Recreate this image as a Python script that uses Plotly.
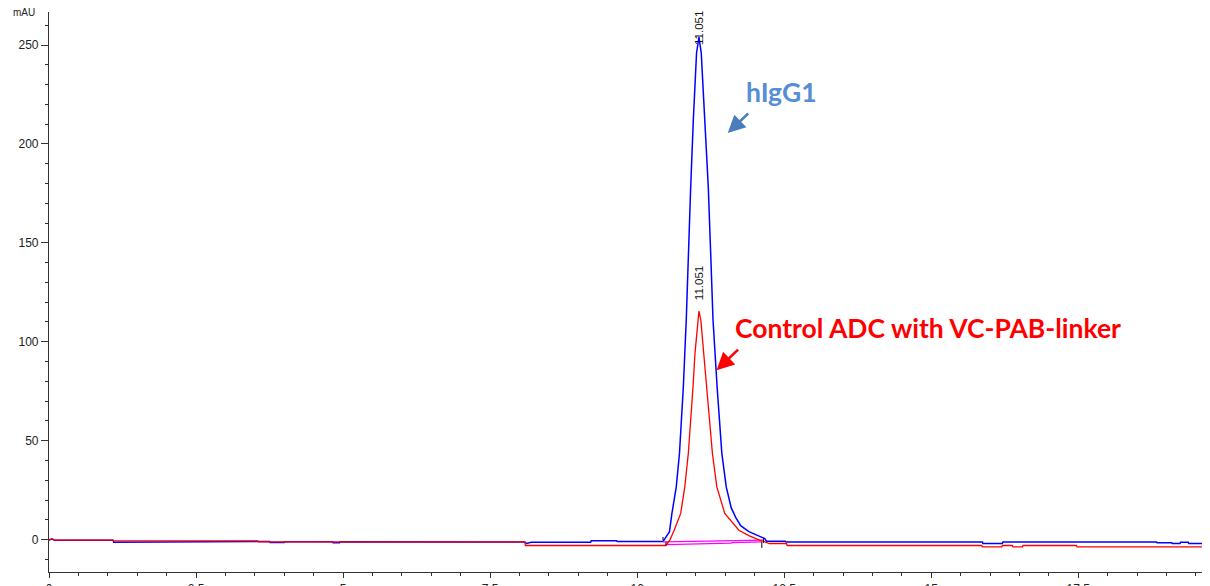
import plotly.graph_objects as go

# ---- data (time in min, signal in mAU) ----
blue_time = [0, 0.05, 0.1, 1.09, 1.1, 3.55, 3.56, 3.75, 3.76, 4.0, 4.01, 4.82, 4.83, 4.94, 4.95,
             8.09, 8.12, 8.2, 9.21, 9.22, 9.65, 9.66, 10.44, 10.49, 10.55, 10.59, 10.665, 10.72,
             10.785, 10.835, 10.87, 10.91, 10.955, 11.01, 11.051, 11.09, 11.15, 11.21, 11.25, 11.29,
             11.36, 11.44, 11.515, 11.60, 11.68, 11.76, 11.90, 12.05, 12.17, 12.2, 12.52, 12.53,
             15.87, 15.88, 16.21, 16.22, 18.83, 18.84, 19.09, 19.1, 19.23, 19.24, 19.37, 19.38,
             19.63, 19.64, 19.66, 19.74]
blue_mau = [-0.3, 0.3, -0.4, -0.4, -1.3, -1.3, -1.0, -1.0, -1.5, -1.5, -1.1, -1.1, -1.6, -1.6, -1.1,
            -1.2, -2.0, -1.4, -1.4, -0.6, -0.6, -1.0, -1.0, 1.0, 4.0, 13, 26.6, 43.6,
            77, 111, 145, 178, 212, 246, 254, 246, 212, 178, 145, 111,
            77, 43.6, 26.6, 16, 11, 7, 4, 2, 0.5, -0.8, -0.8, -1.2,
            -1.2, -2.0, -2.0, -1.2, -1.2, -1.6, -1.6, -2.0, -2.0, -1.4, -1.4, -2.0,
            -2.0, -1.5, -2.0, -2.0]

red_time = [0, 0.05, 0.1, 1.09, 1.1, 3.55, 3.56, 8.09, 8.1, 10.49, 10.56, 10.63, 10.74, 10.81,
            10.87, 10.915, 10.95, 10.983, 11.03, 11.051, 11.083, 11.13, 11.18, 11.225, 11.28,
            11.355, 11.49, 11.73, 11.9, 12.06, 12.2, 12.25, 12.54, 12.55, 15.86, 15.87, 16.2,
            16.21, 16.38, 16.39, 16.55, 16.56, 17.47, 17.48, 19.74]
red_mau = [-0.2, 0.4, -0.3, -0.3, -0.7, -0.7, -1.2, -1.2, -3.0, -3.0, 0, 4.7, 13.2, 26.6,
           43.5, 60.3, 77.2, 94, 110.9, 115.5, 110.9, 94, 77.2, 60.3, 43.5,
           26.6, 13.2, 4.7, 2, 0, -1.5, -2.0, -2.0, -3.0, -3.0, -3.7, -3.7,
           -3.0, -3.0, -3.7, -3.7, -3.0, -3.0, -3.7, -3.7]

# integration baselines (magenta)
base1_time = [10.44, 10.95, 10.96, 11.55, 11.56, 12.15]
base1_mau = [-1.2, -1.0, -0.8, -0.6, -0.4, -0.3]
base2_time = [10.49, 11.0, 11.01, 11.6, 11.61, 12.12]
base2_mau = [-2.6, -2.3, -2.0, -1.8, -1.5, -1.2]

# integration start/end marks
mark_time = [10.44, 10.44, None, 10.49, 10.49, None, 12.15, 12.15, None, 12.12, 12.12]
mark_mau = [1.3, -0.4, None, -1.2, -2.9, None, 0.5, -1.7, None, -1.2, -4.2]

# peak retention-time labels
peak_rt = [11.051, 11.051]
peak_label_y = [249.0, 120.0]
peak_labels = ["11.051", "11.051"]

x_range = [0, 19.74]
y_range = [-16.4, 266.7]

fig = go.Figure()
fig.add_trace(go.Scatter(x=blue_time, y=blue_mau, mode="lines",
                         line=dict(color="#0000FF", width=1.5), showlegend=False))
fig.add_trace(go.Scatter(x=base1_time, y=base1_mau, mode="lines",
                         line=dict(color="#FF00FF", width=1.2), showlegend=False))
fig.add_trace(go.Scatter(x=base2_time, y=base2_mau, mode="lines",
                         line=dict(color="#FF00FF", width=1.2), showlegend=False))
fig.add_trace(go.Scatter(x=red_time, y=red_mau, mode="lines",
                         line=dict(color="#FF0000", width=1.3), showlegend=False))
fig.add_trace(go.Scatter(x=mark_time, y=mark_mau, mode="lines",
                         line=dict(color="#000000", width=1), showlegend=False))

for rt, yy, lab in zip(peak_rt, peak_label_y, peak_labels):
    fig.add_annotation(x=rt, y=yy, text=lab, showarrow=False, textangle=-90,
                       xanchor="center", yanchor="bottom",
                       font=dict(family="Liberation Sans", size=11.5, color="#111111"))

# callouts
fig.add_annotation(x=11.82, y=226.3, text="<b>hIgG1</b>", showarrow=False, xanchor="left",
                   yanchor="middle", font=dict(family="Lato", size=26.5, color="#558ED5"))
fig.add_annotation(x=11.54, y=205.5, ax=22, ay=-21, text="", showarrow=True,
                   arrowhead=2, arrowsize=1.4, arrowwidth=2.5, arrowcolor="#4A7EBB")
fig.add_annotation(x=11.63, y=106.9, text="<b>Control ADC with VC-PAB-linker</b>", showarrow=False,
                   xanchor="left", yanchor="middle",
                   font=dict(family="Lato", size=26.5, color="#FF0000"))
fig.add_annotation(x=11.35, y=85.6, ax=23, ay=-22, text="", showarrow=True,
                   arrowhead=2, arrowsize=1.4, arrowwidth=2.5, arrowcolor="#FF0000")

# axis unit labels
fig.add_annotation(xref="paper", yref="paper", x=0, y=1, xshift=-12, text="mAU",
                   showarrow=False, xanchor="right", yanchor="middle",
                   font=dict(family="Liberation Sans", size=10, color="#222222"))
fig.add_annotation(xref="paper", yref="paper", x=1, y=0, yshift=-16, text="min",
                   showarrow=False, xanchor="right", yanchor="top",
                   font=dict(family="Liberation Sans", size=12, color="#222222"))

axis_font = dict(family="Liberation Sans", size=12, color="#222222")
# page body has an 8px offset, so the figure is sized to the remaining window
fig.update_layout(
    width=1202, height=578,
    margin=dict(l=41, r=0, t=4, b=14),
    paper_bgcolor="white", plot_bgcolor="white",
    template="none",
    xaxis=dict(range=x_range, tick0=0, dtick=2.5, showgrid=False, zeroline=False,
               showline=True, linecolor="#333333", linewidth=1.2,
               ticks="outside", ticklen=5, tickcolor="#333333", tickfont=axis_font,
               automargin=False,
               minor=dict(dtick=0.5, ticks="outside", ticklen=3, tickcolor="#333333", showgrid=False)),
    yaxis=dict(range=y_range, tick0=0, dtick=50, showgrid=False, zeroline=False,
               showline=True, linecolor="#333333", linewidth=1.2,
               ticks="outside", ticklen=7, tickcolor="#333333", tickfont=axis_font,
               automargin=False,
               minor=dict(dtick=10, ticks="outside", ticklen=3, tickcolor="#333333", showgrid=False)),
)

fig.write_html("out.html")
